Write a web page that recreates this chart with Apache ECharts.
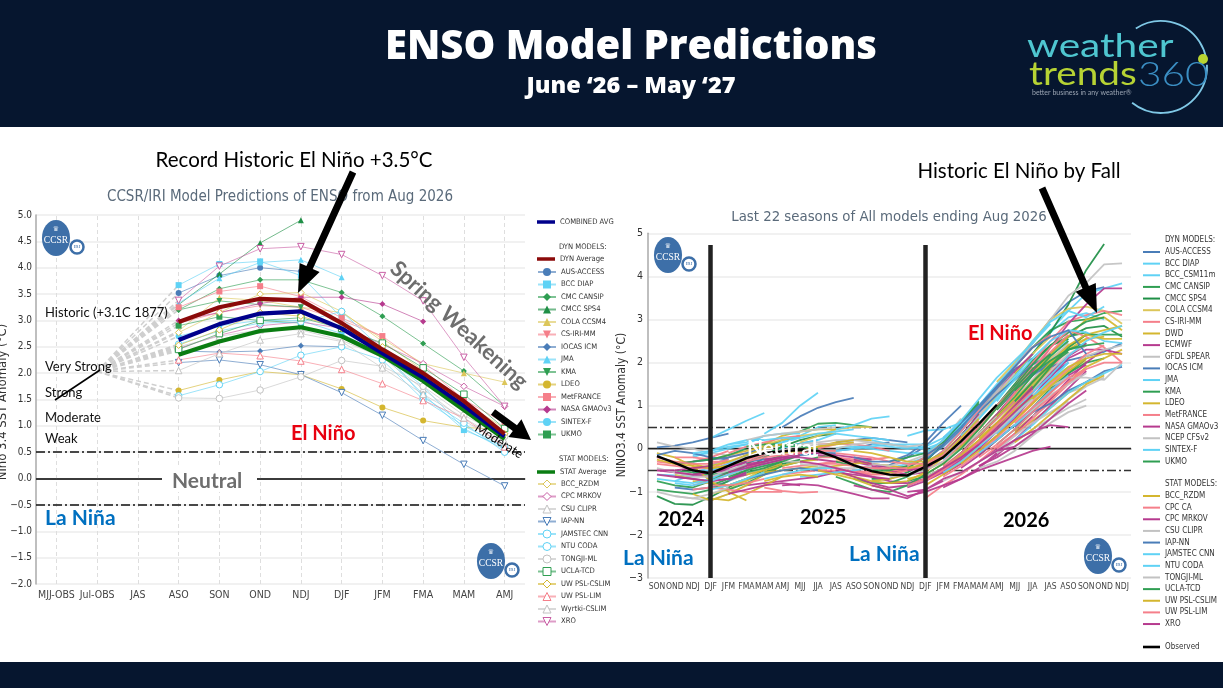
<!DOCTYPE html>
<html><head><meta charset="utf-8">
<style>html,body{margin:0;padding:0;background:#fff}#c{width:1223px;height:688px}</style>
<script src="https://cdn.jsdelivr.net/npm/echarts@6/dist/echarts.min.js"></script>
</head><body><div id="c"></div>
<script>
// ---------- left panel: plume forecast ----------
const leftCats = ['MJJ-OBS','Jul-OBS','JAS','ASO','SON','OND','NDJ','DJF','JFM','FMA','MAM','AMJ'];
const julObs = 2.03;
const combinedAvg = [2.63,2.93,3.13,3.17,2.85,2.38,1.92,1.38,0.8];
const dynAvg  = [2.97,3.25,3.41,3.38,2.95,2.45,2.0,1.47,0.85];
const statAvg = [2.35,2.6,2.8,2.87,2.7,2.33,1.85,1.3,0.75];
const lAUS = [3.52,3.85,4.0,3.93];
const lBCC = [3.67,4.07,4.12,3.85,3.05,2.35,1.6,0.92,0.6];
const lCANSIP = [3.2,3.6,3.77,3.77,3.53,3.08,2.56,2.04,1.37];
const lSPS4 = [3.3,3.88,4.47,4.9];
const lCOLA = [2.8,3.43,3.38,3.25,3.15,2.65,2.18,2.0,1.83];
const lCSIRI = [2.95,3.15,3.28,3.25,3.0,2.7];
const lIOCAS = [2.42,2.4,2.42,2.52,2.5];
const lJMA = [3.33,3.8,4.1,4.15,3.82];
const lKMA = [3.2,3.37,3.3,3.25];
const lLDEO = [1.67,1.87,2.03,1.97,1.7,1.35,1.1,0.97,0.93];
const lMETF = [3.25,3.55,3.65,3.45,3.05,2.7,2.15,1.5,1.05];
const lNASA = [3.0,3.15,3.32,3.44,3.44,3.31,2.98];
const lSINTEX = [2.7,2.9,3.0,3.0,2.75,2.35,1.75,0.95,0.55];
const lUKMO = [2.9,3.07,3.0,2.95];
const lRZDM = [2.77,3.15,3.5,3.53,3.17,2.6,2.05,1.45,0.95];
const lMRKOV = [2.47,2.72,2.9,2.97,2.85,2.55,2.18,1.75,1.37];
const lCSU = [2.5,2.7,2.82,2.82,2.62,2.3,1.7,1.1,0.65];
const lIAP = [2.2,2.25,2.16,1.97,1.63,1.2,0.72,0.27,-0.14];
const lJAMSTEC = [1.57,1.78,2.03,2.34,2.5,2.25,1.5,1.0,0.6];
const lNTU = [2.55,2.8,2.95,2.97,3.17,2.45,1.55,1.05,0.5];
const lTONGJI = [1.53,1.52,1.68,1.93,2.24,2.13,1.75,1.2,0.8];
const lUCLA = [2.45,2.75,3.0,3.05,2.85,2.57,2.1,1.6,0.95];
const lCSLIM = [2.53,2.82,3.15,3.08,2.85,2.5,1.95,1.4,0.85];
const lLIM = [2.25,2.38,2.33,2.23,2.07,1.8,1.48,1.15,0.6];
const lWYRTKI = [2.05,2.37,2.63,2.75,2.6,2.1,1.6,1.15,0.7];
const lXRO = [3.38,4.03,4.36,4.4,4.25,3.85,3.37,2.3,1.37];

// ---------- right panel: last 22 seasons; each run = [first season index, values...] ----------
const rightCats = ['SON','OND','NDJ','DJF','JFM','FMA','MAM','AMJ','MJJ','JJA','JAS','ASO','SON','OND','NDJ','DJF','JFM','FMA','MAM','AMJ','MJJ','JJA','JAS','ASO','SON','OND','NDJ'];
const observed = [-0.17,-0.33,-0.5,-0.57,-0.4,-0.22,-0.1,-0.06,-0.03,-0.05,-0.2,-0.38,-0.52,-0.6,-0.62,-0.42,-0.2,0.17,0.58,1.02];
const rAUS = [[0,.03,.07,.15,.25,.35],[4,-.55,-.32,-.14,.02,.12,.2],[7,.5,.75,.95,1.08,1.18],[9,-.1,-.05,0,.1,.15],[11,-.42,-.45,-.38,-.2,.05,.45],[14,-.5,-.35,-.05,.4,.95,1.45,1.85,2.1],[17,.5,.9,1.35,1.9,2.45,3.0,3.4,3.65,3.75],[18,.2,.55,.95,1.35,1.7,2.0]];
const rBCCD = [[1,-.75,-.6,-.4,-.2,.05],[2,-.15,-.1,0,.1,.3],[5,-.35,-.15,.02,.12,.2],[10,.02,.05,0,-.05,-.1,-.1],[15,-.3,.1,.55,1,1.5,1.95],[18,.35,.8,1.25,1.7,2.15,2.55],[19,1.1,1.65,2.2,2.75,3.2,3.6,3.72,3.84]];
const rBCCC = [[0,-.6,-.62,-.65,-.55,-.4,-.2],[3,.25,.45,.65,.83],[6,.05,.15,.3,.5,.55],[8,-.15,-.1,-.05,0,.05],[13,-.45,-.35,-.2,.1,.5,.9,1.3],[16,-.25,.1,.5,.95,1.35,1.8],[18,.7,1.2,1.7,2.2,2.7,3.05,3.15,3.0]];
const rCANSIP = [[0,-.75,-.85,-.9,-.75,-.55,-.35],[3,-.7,-.55,-.35,-.15,.05,.1],[4,-.35,-.15,.05,.2,.3],[8,.4,.58,.6,.55,.5],[12,-.55,-.55,-.45,-.2,.2,.65,1.05],[14,-.75,-.65,-.45,-.1,.35,.8],[16,-.15,.3,.8,1.35,1.9,2.35,2.75,2.95,3.0,3.15,3.2],[20,1.6,2.05,2.4,2.6,2.7]];
const rSPS4 = [[0,-1.1,-1.28,-1.3,-1.12,-.9,-.7],[4,-.85,-.7,-.5,-.35,-.25],[5,-.5,-.2,.05,.2,.3,.35],[12,-.7,-.7,-.55,-.3,.1,.6],[16,-.2,.3,.8,1.3,1.75,2.2,2.7,3.35,4.15,4.75],[18,.55,1.0,1.5,2.0,2.4,2.55],[19,.9,1.35,1.8,2.2,2.6,2.8,2.85,2.6]];
const rCOLA = [[1,-.6,-.7,-.8,-.85,-.7],[3,-1.05,-.95,-.7,-.45,-.25],[5,-.1,.1,.2,.3,.35,.35],[8,.15,.3,.45,.5,.5],[10,-.25,-.3,-.35,-.4,-.45],[15,-.4,-.1,.3,.75,1.25,1.75,2.2,2.6],[17,0,.35,.8,1.25,1.7,2.1,2.4,2.55],[19,1.55,2.0,2.5,3.0,3.25,3.3,3.2,2.9],[20,.7,1.05,1.45,1.8,2.05]];
const rCSIRI = [[0,-.35,-.4,-.45,-.45,-.3],[3,-.3,-.3,-.25,-.15,-.05],[6,-.35,-.25,-.1,0,.1],[9,.1,.12,.1,.05,-.05],[11,-.5,-.6,-.55,-.4,-.2,.15],[15,-.5,-.3,.1,.5,1,1.45,1.9],[16,-.4,-.1,.3,.7,1.15,1.6,2.05,2.4],[19,.95,1.45,2,2.5,2.95,3.1,3.2,3.1],[19,.55,.95,1.4,1.85,2.3]];
const rDWD = [[2,-.75,-.8,-.85,-.75,-.55],[4,-.7,-.6,-.45,-.35],[6,.1,.3,.4,.45,.45],[11,-.3,-.35,-.4,-.45,-.35,-.15],[12,-.55,-.55,-.5,-.35,-.1,.3],[16,-.6,-.3,.1,.5,.9,1.35,1.8,2.1],[18,.25,.6,1.05,1.5,1.95,2.3,2.55,2.6],[20,1.3,1.75,2.2,2.6,3.0,3.05,2.75]];
const rECMWF = [[0,-.5,-.55,-.6,-.5,-.35,-.2],[3,-.45,-.5,-.45,-.3,-.2],[5,-.85,-.8,-.75,-.7,-.65,-.55],[8,-.45,-.5,-.55,-.6,-.65,-.75,-.8],[9,-.15,-.2,-.3,-.4,-.5,-.6,-.55],[13,-.8,-.8,-.7,-.5,-.2,.15,.6],[15,-.5,-.15,.3,.8,1.3,1.8,2.2],[17,-.1,.35,.8,1.3,1.8,2.35,2.9,3.35,3.72,3.72],[18,-.05,.3,.7,1.2,1.7,2.15,2.4]];
const rGFDL = [[0,.15,.05,0,-.1,-.15],[4,-.75,-.6,-.45,-.3],[7,-.2,-.15,-.1,-.05],[10,0,.1,.15,.1,.05,0],[14,-.6,-.4,-.15,.25,.75,1.3,1.75],[18,.8,1.35,1.9,2.45,3.0,3.55,3.85,4.28,4.3],[19,.7,1.15,1.6,2.05,2.45]];
const rIOCAS = [[1,-.9,-.95,-.9,-.75,-.55],[3,-.5,-.4,-.3,-.25,-.2],[5,-.45,-.35,-.25,-.15,-.1,-.1],[10,.15,.2,.25,.2,.15],[15,-.25,.05,.45,.85,1.25,1.6,1.95,2.2],[18,.5,.95,1.35,1.7,2.0],[20,1.45,1.75,1.9,2.05,2.15,2.25,2.45]];
const rJMA = [[2,-.55,-.5,-.35,-.15,.05],[6,.35,.6,1.0,1.3],[9,.2,.35,.3,.25,.2],[12,.2,.1,.05,0,.15,.55],[16,-.05,.4,.9,1.4,1.95,2.5,2.95,3.2,3.05,3.3],[18,.1,.5,.95,1.45,1.9]];
const rKMA = [[0,-.95,-1,-1.05,-.95,-.75],[3,-.85,-.7,-.5,-.3,-.15],[6,-.55,-.4,-.3,-.2,-.15],[11,-.7,-.8,-.8,-.65,-.4],[13,-.3,-.2,-.1,.15,.6,1.1],[16,-.35,.05,.5,.95,1.45,1.95,2.4,2.7,2.95,3.05],[18,-.15,.2,.55,.95,1.4,1.75,2.0,2.1],[20,1.1,1.55,2.0,2.3,2.45]];
const rLDEO = [[1,-.3,-.35,-.45,-.4,-.25],[3,-.25,-.15,-.05,.05,.1],[5,-.6,-.5,-.4,-.3,-.25],[8,-.5,-.45,-.4,-.35,-.3],[10,-.55,-.65,-.75,-.7,-.6],[14,-.7,-.6,-.35,.05,.45,.95,1.4],[16,-.45,-.15,.2,.6,1.0,1.45,1.85],[19,.6,1.0,1.45,1.9,2.35,2.65,2.75,2.85],[20,.4,.75,1.15,1.55,1.9,2.1,2.3]];
const rMETF = [[0,-.3,-.35,-.3,-.2,-.05],[2,-.85,-.75,-.6,-.45,-.3],[4,-.1,.05,.15,.25,.3],[7,-.6,-.55,-.5,-.5,-.5,-.55],[9,-.2,-.2,-.25,-.25,-.2],[12,-.45,-.5,-.5,-.4,-.15,.2,.65],[15,-.4,-.05,.4,.9,1.4,1.9,2.35,2.65],[17,.1,.5,.95,1.4,1.85,2.25,2.65],[19,.75,1.3,1.85,2.35,2.75,2.6,2.35,2.0]];
const rNASA = [[0,-.6,-.65,-.7,-.75,-.7,-.55],[2,-.6,-.65,-.55,-.4,-.3],[4,-.4,-.35,-.3,-.2,-.1],[7,-.85,-.82,-.85,-.95,-1.05,-1.15,-1.15],[10,-.5,-.65,-.8,-.9,-.85,-.7],[11,-.25,-.35,-.45,-.5,-.45],[14,-.9,-.75,-.5,-.2,.15,.55,1,1.45],[16,-.6,-.35,0,.4,.85,1.3,1.75,2.15,2.45],[18,-.3,0,.35,.75,1.15,1.6,2.0,2.3],[19,.35,.75,1.2,1.65,2.1,2.3,2.3,2.2]];
const rNCEP = [[1,-1.1,-1.15,-1.2,-1.05,-.85],[5,-.5,-.4,-.3,-.3],[6,-.15,-.05,.1,.15,.2,.2],[12,-.35,-.4,-.3,-.15,.2,.7],[15,-.65,-.45,-.2,.1,.5,.95],[17,-.3,.1,.5,.9,1.35,1.8,2.2,2.4],[20,.95,1.25,1.55,1.85,2.15,2.3,2.4],[21,.75,1.05,1.3,1.45,1.65]];
const rSINTEX = [[0,-.7,-.75,-.8,-.7,-.5],[2,-.2,-.05,.1,.2,.2],[4,.1,.15,.3,.35,.35],[8,-.65,-.6,-.55,-.5,-.45],[10,.45,.55,.7,.75],[14,.3,.42,.45,.6,.95,1.4],[17,.3,.7,1.15,1.6,2.1,2.5,2.75,2.7,2.5,2.45],[19,.35,.75,1.2,1.6,2.0]];
const rUKMO = [[1,-.5,-.55,-.6,-.55,-.4],[4,-.95,-.8,-.6,-.4],[5,-.55,-.45,-.3,-.15],[10,-.65,-.8,-.95,-1.0,-.85,-.6],[16,-.45,-.1,.3,.75,1.2,1.7,2.15,2.5],[19,.5,.95,1.4,1.9,2.35,2.65,2.65,2.65],[19,.1,.45,.85,1.3,1.75,2.1]];
const rRZDM = [[0,-.1,-.2,-.4,-.75,-1.0,-1.2],[2,-1.05,-1.2,-1.05,-.85,-.6],[3,-1.15,-1.2,-1.05,-.85,-.65],[6,-.55,-.5,-.45,-.4],[8,-.1,.05,.15,.2,.2],[9,-.5,-.6,-.7,-.85,-.95],[12,-.75,-.8,-.75,-.55,-.2,.25,.7],[15,-.85,-.6,-.3,.05,.45,.85,1.25],[18,.35,.75,1.15,1.55,2.0,2.4,2.65,2.55,2.55],[20,.35,.65,.95,1.3,1.55,1.75]];
const rCPCCA = [[1,-.2,-.2,-.25,-.2,-.1],[2,-.95,-.9,-.95,-1.0,-1.0,-1.0],[6,-.9,-.98,-1.02,-1.0],[7,-.45,-.4,-.35,-.3,-.3],[10,-.1,-.15,-.2,-.3,-.35,-.35],[15,-1.15,-.85,-.6,-.3,.05,.35],[16,-.65,-.4,-.1,.25,.65,1.1,1.5],[18,-.1,.25,.65,1.05,1.5,1.85,2.2,2.4],[19,0,.3,.7,1.1,1.5,1.85]];
const rMRKOV = [[1,-.65,-.7,-.75,-.7,-.6],[3,-.55,-.5,-.4,-.3,-.2],[4,-1.05,-.95,-.85,-.8,-.85],[8,-.1,-.1,-.15,-.2,-.25],[12,-.85,-.95,-1.1,-1.0,-.85,-.7,-.45,-.1],[15,-.75,-.55,-.25,.1,.5,.95,1.4],[17,-.45,-.15,.2,.55,.95,1.35,1.7,1.95],[18,-.4,-.15,.2,.6,1.0,1.4,1.8]];
const rCSU = [[0,-.45,-.55,-.65,-.65,-.5,-.35],[4,-.3,-.2,-.1,-.05,-.05],[8,-.35,-.4,-.45,-.45,-.4],[13,-.65,-.6,-.5,-.3,0,.35,.75],[18,-.45,-.3,-.05,.3,.7,1.15,1.45],[20,.55,.9,1.25,1.5,1.75],[20,.05,.3,.6,.85,1.0]];
const rIAP = [[0,-.15,-.05,-.1,-.2,-.25],[2,-.3,-.25,-.2,-.1,0,.1],[5,-.7,-.6,-.5,-.45,-.5],[11,-.2,-.3,-.3,-.15,.15,.6,1],[15,-.15,.1,.5,.95,1.4,1.85],[16,.25,.6,1,1.45,1.9,2.35,2.6,2.75,2.2],[20,.5,.85,1.05,1.35,1.55,1.8,1.9]];
const rJAMSTEC = [[1,-.8,-.85,-.75,-.6,-.45],[5,.2,.2,.25,.25],[6,-.7,-.6,-.5,-.45,-.45],[11,.05,.05,.1,.1,.1],[15,-.1,.2,.65,1.15,1.65,2.05,2.45,2.9],[18,.05,.4,.8,1.2,1.6,2.0],[20,.9,1.3,1.7,2.15,2.5,2.7,2.85]];
const rNTU = [[2,-.1,-.05,.05,.1],[3,-.95,-.85,-.7,-.55],[7,.15,.25,.35,.4,.45],[12,.1,.05,0,.05,.25,.65],[16,-.55,-.3,.05,.4,.8,1.2,1.6,1.9],[18,-.1,.2,.55,.95,1.35,1.7],[20,.2,.55,.95,1.3,1.55,1.75,1.95]];
const rTONGJI = [[0,-1.0,-1.1,-1.15,-1.05,-.9],[5,.2,.3,.35,.4,.45,.5],[8,.05,.1,.1,.15],[11,.2,.15,.1,.05,.1],[16,-.75,-.55,-.3,-.05,.3,.6,.85,1.1],[18,.1,.4,.8,1.15,1.45,1.65,1.65,1.6,2.0],[19,-.1,.15,.45,.7,.95,1.15]];
const rUCLA = [[1,-.35,-.3,-.25,-.15,0],[4,-.65,-.5,-.4,-.3],[5,.05,.1,.08,.05,0],[10,-.3,-.4,-.5,-.5,-.4],[15,-.6,-.35,0,.45,.95,1.4,1.85,2.2],[18,.3,.7,1.1,1.55,1.95,2.25],[20,1.35,1.75,2.05,2.3,2.4,2.45]];
const rCSLIM = [[0,-.25,-.35,-.4,-.45,-.4],[2,-.45,-.4,-.3,-.15,0,.1],[6,-.75,-.65,-.6,-.65],[7,-.1,-.05,.05,.1,.15],[11,-.05,-.1,-.2,-.3,-.3,-.1],[15,-.7,-.45,-.15,.2,.55,.9,1.2,1.4],[17,-.35,-.05,.3,.65,1.05,1.45,1.8,2.1],[20,.15,.45,.8,1.15,1.5,1.7],[21,1.15,1.55,1.9,2.1,2.2,2.2]];
const rLIM = [[0,-.2,-.3,-.35,-.35,-.25],[3,-.85,-.85,-.8,-.7],[5,-.3,-.2,-.15,-.1,-.05,-.05],[9,-.35,-.35,-.4,-.45,-.45,-.45],[10,-.45,-.55,-.6,-.6,-.5],[14,-.85,-.7,-.45,-.1,.3,.7,1.1],[15,-.75,-.5,-.2,.15,.55,.95,1.35],[18,-.2,.1,.45,.85,1.2,1.55,1.85,2.0,2.0],[20,.6,.95,1.3,1.65,1.85]];
const rXRO = [[0,-.5,-.5,-.45,-.4],[1,-.55,-.6,-.55,-.45,-.3],[4,-.55,-.45,-.35,-.25,-.15],[6,-.25,-.2,-.2,-.25,-.3],[8,-.3,-.35,-.45,-.55,-.65,-.7],[11,-.85,-.95,-1.05,-1.15,-.95,-.75],[14,-1.0,-.95,-.7,-.55,-.3,-.05,.05],[15,-.7,-.45,-.2,.1,.45,.85,1.25],[16,-.9,-.7,-.5,-.35,-.2,-.05,.05],[17,-.55,-.3,-.05,.2,.4,.55,.5],[18,-.4,-.2,.05,.35,.7,1.05,1.35]];

// ---------- palette and table wiring ----------
const C = {blue:'#4a7db8',cyan:'#5fd2f5',green:'#2f9e52',dgreen:'#1f8f46',yel:'#dcc65a',gold:'#d4b62f',red:'#f57f8a',mag:'#b63a8e',gray:'#c2c2c2',pink:'#c95fa5'};
const leftDyn = [
 ['AUS-ACCESS',lAUS,C.blue,'circle',0],['BCC DIAP',lBCC,C.cyan,'rect',0],['CMC CANSIP',lCANSIP,C.green,'diamond',0],
 ['CMCC SPS4',lSPS4,C.dgreen,'triangle',0],['COLA CCSM4',lCOLA,C.yel,'triangle',0],['CS-IRI-MM',lCSIRI,C.red,'triangle',180],
 ['IOCAS ICM',lIOCAS,C.blue,'diamond',0],['JMA',lJMA,C.cyan,'triangle',0],['KMA',lKMA,C.green,'triangle',180],
 ['LDEO',lLDEO,C.gold,'circle',0],['MetFRANCE',lMETF,C.red,'rect',0],['NASA GMAOv3',lNASA,C.mag,'diamond',0],
 ['SINTEX-F',lSINTEX,C.cyan,'circle',0],['UKMO',lUKMO,C.green,'rect',0]];
const leftStat = [
 ['BCC_RZDM',lRZDM,C.yel,'diamond',0],['CPC MRKOV',lMRKOV,C.pink,'diamond',0],['CSU CLIPR',lCSU,C.gray,'triangle',0],
 ['IAP-NN',lIAP,C.blue,'triangle',180],['JAMSTEC CNN',lJAMSTEC,C.cyan,'circle',0],['NTU CODA',lNTU,C.cyan,'circle',0],
 ['TONGJI-ML',lTONGJI,C.gray,'circle',0],['UCLA-TCD',lUCLA,C.green,'rect',0],['UW PSL-CSLIM',lCSLIM,C.gold,'diamond',0],
 ['UW PSL-LIM',lLIM,C.red,'triangle',0],['Wyrtki-CSLIM',lWYRTKI,C.gray,'triangle',0],['XRO',lXRO,C.pink,'triangle',180]];
const rightDyn = [
 ['AUS-ACCESS',rAUS,C.blue],['BCC DIAP',rBCCD,C.cyan],['BCC_CSM11m',rBCCC,C.cyan],['CMC CANSIP',rCANSIP,C.green],['CMCC SPS4',rSPS4,C.dgreen],
 ['COLA CCSM4',rCOLA,C.yel],['CS-IRI-MM',rCSIRI,C.red],['DWD',rDWD,C.gold],['ECMWF',rECMWF,C.mag],['GFDL SPEAR',rGFDL,C.gray],['IOCAS ICM',rIOCAS,C.blue],
 ['JMA',rJMA,C.cyan],['KMA',rKMA,C.green],['LDEO',rLDEO,C.gold],['MetFRANCE',rMETF,C.red],['NASA GMAOv3',rNASA,C.mag],['NCEP CFSv2',rNCEP,C.gray],
 ['SINTEX-F',rSINTEX,C.cyan],['UKMO',rUKMO,C.green]];
const rightStat = [
 ['BCC_RZDM',rRZDM,C.gold],['CPC CA',rCPCCA,C.red],['CPC MRKOV',rMRKOV,C.mag],['CSU CLIPR',rCSU,C.gray],['IAP-NN',rIAP,C.blue],['JAMSTEC CNN',rJAMSTEC,C.cyan],
 ['NTU CODA',rNTU,C.cyan],['TONGJI-ML',rTONGJI,C.gray],['UCLA-TCD',rUCLA,C.green],['UW PSL-CSLIM',rCSLIM,C.gold],['UW PSL-LIM',rLIM,C.red],['XRO',rXRO,C.mag]];

const FONT = '"DejaVu Sans Condensed","DejaVu Sans",sans-serif';
const SEASON0 = 3; // first forecast season on the left axis
const leftData = a => a.map((v,i)=>[SEASON0+i,v]);
const runsData = runs => { const o=[]; runs.forEach(r=>{ r.slice(1).forEach((v,i)=>o.push([r[0]+i,v])); o.push([r[0]+r.length-1,null]); }); return o; };
const R = n => n + ' '; // right-panel legend keys

const series = [];
series.push({type:'line',name:'left refs',xAxisIndex:0,yAxisIndex:0,data:[],silent:true,markLine:{silent:true,symbol:'none',z:1,animation:false,label:{show:false},data:[
  ...leftCats.map((c,i)=>({xAxis:i,lineStyle:{color:'#dedede',type:[4,3],width:1}})),
  {yAxis:0,lineStyle:{color:'#111',type:'solid',width:1.5}},
  {yAxis:0.5,lineStyle:{color:'#111',type:[9,3,2,3],width:1.5}},
  {yAxis:-0.5,lineStyle:{color:'#111',type:[9,3,2,3],width:1.5}}]}});
const leadIn = [];
[...leftDyn,...leftStat].forEach(m=>{ leadIn.push([1,julObs],[SEASON0,m[1][0]],[SEASON0,null]); });
series.push({type:'line',name:'observed lead-in',xAxisIndex:0,yAxisIndex:0,data:leadIn,symbol:'none',silent:true,z:2,lineStyle:{color:'#cfcfcf',type:[5,3],width:1.5}});
leftDyn.forEach(m=>series.push({type:'line',name:m[0],xAxisIndex:0,yAxisIndex:0,data:leftData(m[1]),color:m[2],
  symbol:m[3],symbolRotate:m[4],symbolSize:6,showSymbol:true,z:3,lineStyle:{width:1,opacity:0.62},itemStyle:{color:m[2]}}));
leftStat.forEach(m=>series.push({type:'line',name:m[0],xAxisIndex:0,yAxisIndex:0,data:leftData(m[1]),color:m[2],
  symbol:m[3],symbolRotate:m[4],symbolSize:6.5,showSymbol:true,z:3,lineStyle:{color:m[2],width:1,opacity:0.62},itemStyle:{color:'#fff',borderColor:m[2],borderWidth:1}}));
[['STAT Average',statAvg,'#0a7d12'],['COMBINED AVG',combinedAvg,'#00008b'],['DYN Average',dynAvg,'#8b0a0a']].forEach(m=>
  series.push({type:'line',name:m[0],xAxisIndex:0,yAxisIndex:0,data:leftData(m[1]),color:m[2],symbol:'none',z:5,lineStyle:{width:4.2}}));
series.push({type:'line',name:'right refs',xAxisIndex:1,yAxisIndex:1,data:[],silent:true,markLine:{silent:true,symbol:'none',z:1,animation:false,label:{show:false},data:[
  {yAxis:0,lineStyle:{color:'#222',type:'solid',width:1.3}},
  {yAxis:0.5,lineStyle:{color:'#333',type:[9,3,2,3],width:1.4}},
  {yAxis:-0.5,lineStyle:{color:'#333',type:[9,3,2,3],width:1.4}}]}});
[...rightDyn,...rightStat].forEach(m=>series.push({type:'line',name:R(m[0]),xAxisIndex:1,yAxisIndex:1,data:runsData(m[1]),color:m[2],
  symbol:'none',z:3,lineStyle:{width:1.8,opacity:0.92}}));
series.push({type:'line',name:'Observed',xAxisIndex:1,yAxisIndex:1,data:observed.map((v,i)=>[i,v]),color:'#000',symbol:'none',z:6,lineStyle:{width:2.4},
  markLine:{silent:true,symbol:'none',z:7,animation:false,label:{show:false},lineStyle:{color:'#222',type:'solid',width:4.5},
    data:[[{coord:[3,4.73]},{coord:[3,-3]}],[{coord:[15,4.73]},{coord:[15,-3]}]]}});

// legends
const legendBase = (left,top,data,gap,w,h,fs=7.6)=>({orient:'vertical',left,top,data,selectedMode:false,itemWidth:w,itemHeight:h,itemGap:gap,padding:0,textStyle:{color:'#333',fontSize:fs,fontFamily:FONT,lineHeight:10},formatter:n=>n.trim()});
const rectItem = n => ({name:n,icon:'rect'});
const legends = [
  legendBase(537,217,[rectItem('COMBINED AVG')],2.5,18,3.5),
  legendBase(537,254,[rectItem('DYN Average')],2.5,18,3.5),
  legendBase(537,267,leftDyn.map(m=>m[0]),2.5,18,10),
  legendBase(537,467,[rectItem('STAT Average')],2.5,18,3.5),
  {...legendBase(537,479,leftStat.map(m=>m[0]),2.5,18,10),itemStyle:{borderWidth:1}},
  legendBase(1143,247,rightDyn.map(m=>rectItem(R(m[0]))),1.64,17,2,8),
  legendBase(1143,491,rightStat.map(m=>rectItem(R(m[0]))),1.64,17,2,8),
  legendBase(1143,642,[rectItem('Observed')],1.64,17,2.6,8)
];

// annotation helpers
const Z = 60;
const T = (text,x,y,font,fill,opt={}) => ({type:'text',x,y,z:Z,silent:true,rotation:opt.rot||0,scaleX:opt.sx||1,style:{text,font,fill,textAlign:opt.align||'left',textVerticalAlign:'middle',align:opt.align||'left',verticalAlign:'middle'}});
const arrow = (x1,y1,x2,y2,w,hw,hl) => { const L=Math.hypot(x2-x1,y2-y1),ux=(x2-x1)/L,uy=(y2-y1)/L,nx=-uy,ny=ux,bx=x2-ux*hl,by=y2-uy*hl;
  return {type:'polygon',z:Z,silent:true,shape:{points:[[x1+nx*w/2,y1+ny*w/2],[bx+nx*w/2,by+ny*w/2],[bx+nx*hw/2,by+ny*hw/2],[x2,y2],[bx-nx*hw/2,by-ny*hw/2],[bx-nx*w/2,by-ny*w/2],[x1-nx*w/2,y1-ny*w/2]]},style:{fill:'#000'}}; };
const ccsr = (x,y) => [
  {type:'circle',x,y,z:Z,scaleX:0.78,silent:true,shape:{r:18},style:{fill:'#3d6fa8'}},
  {type:'circle',x:x+21,y:y+9,z:Z,silent:true,shape:{r:6.5},style:{fill:'#fff',stroke:'#3d6fa8',lineWidth:2.5}},
  T('IRI',x+21,y+9,'5px "Liberation Serif"','#3d6fa8',{align:'center'}),
  T('CCSR',x,y+2,'9.5px "Liberation Serif"','#fff',{align:'center'}),
  T('♛',x,y-9,'7px "DejaVu Sans"','#dfe8f2',{align:'center'})
];
const SANS = 'Lato';
const graphicEls = [
  {type:'rect',z:50,silent:true,shape:{x:0,y:0,width:1223,height:127},style:{fill:'#06162f'}},
  {type:'rect',z:50,silent:true,shape:{x:0,y:662,width:1223,height:26},style:{fill:'#06162f'}},
  T('ENSO Model Predictions',631,48,'800 40px "Open Sans"','#fff',{align:'center'}),
  T('June ‘26 – May ‘27',631,86,'800 23.5px "Open Sans"','#fff',{align:'center'}),
  // logo
  {type:'arc',z:Z,silent:true,shape:{cx:1161,cy:67,r:46,startAngle:-2.15,endAngle:-0.2},style:{stroke:'#7fc8e6',lineWidth:1.8,fill:'none'}},
  {type:'arc',z:Z,silent:true,shape:{cx:1161,cy:67,r:46,startAngle:-0.05,endAngle:2.25},style:{stroke:'#7fc8e6',lineWidth:1.8,fill:'none'}},
  {type:'circle',x:1203,y:59,z:Z,silent:true,shape:{r:5},style:{fill:'#b9d531'}},
  T('weather',1027,47,'400 32px Lato','#4fc6d0',{sx:1.27}),
  T('trends',1029,75,'400 32px Lato','#b7d334',{sx:1.21}),
  T('360',1138,75,'300 33px Lato','#3b8fc4',{sx:1.23}),
  T('better business in any weather®',1032,93,'7px Lato','#9aa4b2'),
  // chart titles
  T('CCSR/IRI Model Predictions of ENSO from Aug 2026',280,197,'15px '+FONT,'#5a6a7a',{align:'center'}),
  T('Last 22 seasons of All models ending Aug 2026',889,217,'14.8px '+FONT,'#5a6a7a',{align:'center'}),
  T('Nino 3.4 SST Anomaly (°C)',3,402,'13px '+FONT,'#333',{align:'center',rot:Math.PI/2}),
  T('NINO3.4 SST Anomaly (°C)',622,405,'12px '+FONT,'#333',{align:'center',rot:Math.PI/2}),
  // callouts
  T('Record Historic El Niño +3.5°C',294,160,'20.5px '+SANS,'#000',{align:'center'}),
  T('Historic El Niño by Fall',1019,171,'20.5px '+SANS,'#000',{align:'center'}),
  arrow(353,172,298,293,7,22,28),
  arrow(1042,188,1097,313,7,22,28),
  arrow(493,412,531,440,7,22,20),
  T('Spring Weakening',459,325,'bold 22px '+SANS,'#6e6e6e',{align:'center',rot:-0.74}),
  T('Moderate',499,441,'12.5px '+SANS,'#000',{align:'center',rot:-0.56}),
  T('Historic (+3.1C 1877)',45,313,'13px '+SANS,'#111'),
  T('Very Strong',45,367,'13px '+SANS,'#111'),
  T('Strong',45,393,'13px '+SANS,'#111'),
  T('Moderate',45,418,'13px '+SANS,'#111'),
  T('Weak',45,439,'13px '+SANS,'#111'),
  {type:'line',z:Z,silent:true,shape:{x1:55,y1:400,x2:100,y2:370},style:{stroke:'#000',lineWidth:1.6}},
  T('El Niño',291,434,'bold 20px '+SANS,'#e8000f'),
  {type:'rect',z:Z-1,silent:true,shape:{x:162,y:468,width:95,height:24},style:{fill:'#fff'}},
  T('Neutral',172,481,'bold 21px '+SANS,'#6e6e6e'),
  T('La Niña',45,518,'bold 21px '+SANS,'#0070c0'),
  T('El Niño',968,334,'bold 20px '+SANS,'#e8000f'),
  T('Neutral',747,448,'bold 21px '+SANS,'#fff'),
  T('2024',658,520,'bold 20px '+SANS,'#000'),
  T('2025',800,518,'bold 20px '+SANS,'#000'),
  T('2026',1003,521,'bold 20px '+SANS,'#000'),
  T('La Niña',623,558,'bold 21px '+SANS,'#0070c0'),
  T('La Niña',849,554,'bold 21px '+SANS,'#0070c0'),
  // legend headers
  T('DYN MODELS:',559,247,'7.6px '+FONT,'#333'),
  T('STAT MODELS:',559,459,'7.6px '+FONT,'#333'),
  T('DYN MODELS:',1165,240,'8px '+FONT,'#333'),
  T('STAT MODELS:',1165,484,'8px '+FONT,'#333'),
  ...ccsr(56,238),...ccsr(491,561),...ccsr(668,255),...ccsr(1098,556)
];

const yFmt1 = v => (v<0?'−':'')+Math.abs(v).toFixed(1);
const yFmt0 = v => (v<0?'−':'')+Math.abs(v);
const axisLine = {show:true,lineStyle:{color:'#aaa',width:1.5}};
const split = {show:true,lineStyle:{color:'#ececec',width:1.5}};
const option = {
  animation:false,backgroundColor:'#fff',
  grid:[{left:36,top:215,width:489,height:369},{left:648,top:233.3,width:483,height:344.7}],
  xAxis:[
    {type:'category',gridIndex:0,data:leftCats,boundaryGap:true,axisLine,axisTick:{show:false},splitLine:{show:false},axisLabel:{interval:0,color:'#444',fontSize:10.5,fontFamily:FONT,margin:6}},
    {type:'category',gridIndex:1,data:rightCats,boundaryGap:true,axisLine,axisTick:{show:false},splitLine:{show:false},axisLabel:{interval:0,color:'#444',fontSize:8.5,fontFamily:FONT,margin:4}}],
  yAxis:[
    {type:'value',gridIndex:0,min:-2,max:5,interval:0.5,axisLine,axisTick:{show:false},splitLine:split,axisLabel:{formatter:yFmt1,color:'#333',fontSize:10,fontFamily:FONT,margin:4}},
    {type:'value',gridIndex:1,min:-3,max:5,interval:1,axisLine,axisTick:{show:false},splitLine:split,axisLabel:{formatter:yFmt0,color:'#333',fontSize:10.5,fontFamily:FONT,margin:5}}],
  legend:legends,series,graphic:{elements:graphicEls}
};
const chart = echarts.init(document.getElementById('c'),null,{renderer:'canvas'});
chart.setOption(option);
</script></body></html>
